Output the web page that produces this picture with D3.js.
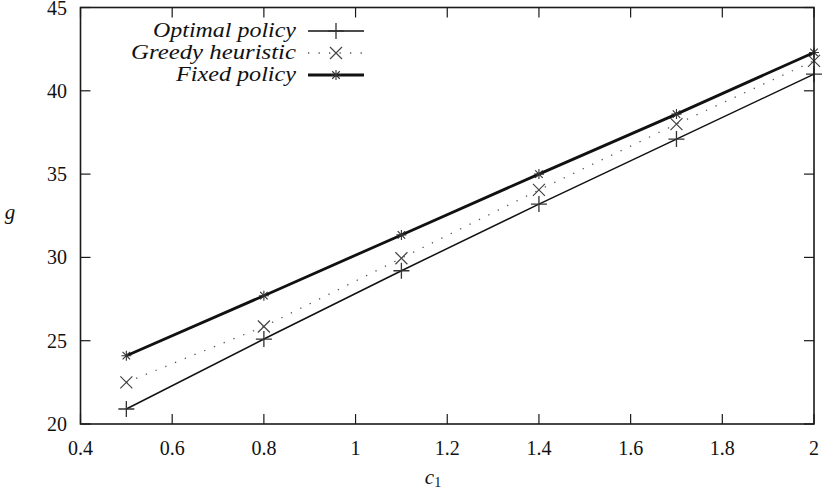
<!DOCTYPE html>
<html>
<head>
<meta charset="utf-8">
<script src="https://cdn.jsdelivr.net/npm/d3@7"></script>
<style>
  html, body { margin: 0; padding: 0; background: #fff; }
</style>
</head>
<body>
<svg id="chart" width="826" height="493" font-family="'Liberation Serif', 'Times New Roman', serif"></svg>
<script>
// c1 values on the horizontal axis
const c1Values = [0.5, 0.8, 1.1, 1.4, 1.7, 2.0];
// g values per policy
const optimalPolicy = [20.9, 25.1, 29.2, 33.2, 37.1, 41.0];
const greedyHeuristic = [22.5, 25.85, 29.95, 34.05, 38.0, 41.8];
const fixedPolicy = [24.1, 27.7, 31.35, 35.0, 38.6, 42.3];
// axis ticks
const xTicks = [0.4, 0.6, 0.8, 1, 1.2, 1.4, 1.6, 1.8, 2];
const yTicks = [20, 25, 30, 35, 40, 45];
const seriesNames = ["Optimal policy", "Greedy heuristic", "Fixed policy"];

const svg = d3.select("#chart");
const plotLeft = 80.5, plotRight = 814, plotTop = 7.5, plotBottom = 424;

const x = d3.scaleLinear().domain([0.4, 2]).range([plotLeft, plotRight]);
const y = d3.scaleLinear().domain([20, 45]).range([plotBottom, plotTop]);

const ink = "#1a1a1a";
const textInk = "#111";
const tickLen = 10;

// Tick marks, inward on all four sides
const gT = svg.append("g").attr("stroke", ink).attr("stroke-width", 1.2);
xTicks.forEach(t => {
  gT.append("line").attr("x1", x(t)).attr("x2", x(t)).attr("y1", plotBottom).attr("y2", plotBottom - tickLen);
  gT.append("line").attr("x1", x(t)).attr("x2", x(t)).attr("y1", plotTop).attr("y2", plotTop + tickLen);
});
yTicks.forEach(t => {
  gT.append("line").attr("x1", plotLeft).attr("x2", plotLeft + tickLen).attr("y1", y(t)).attr("y2", y(t));
  gT.append("line").attr("x1", plotRight).attr("x2", plotRight - tickLen).attr("y1", y(t)).attr("y2", y(t));
});

// Tick labels
svg.append("g").attr("fill", textInk).selectAll("text").data(xTicks).join("text")
  .attr("x", d => x(d)).attr("y", 455)
  .attr("text-anchor", "middle").attr("font-size", 20)
  .text(d => d3.format("~g")(d));
svg.append("g").attr("fill", textInk).selectAll("text").data(yTicks).join("text")
  .attr("x", 67).attr("y", d => y(d) + 7)
  .attr("text-anchor", "end").attr("font-size", 20)
  .text(d => d);

// Axis titles
svg.append("text").attr("x", 10).attr("y", 219).attr("font-size", 21).attr("fill", textInk)
  .attr("font-style", "italic").attr("text-anchor", "middle").text("g");
const xl = svg.append("text").attr("x", 433).attr("y", 484).attr("font-size", 21).attr("fill", textInk)
  .attr("font-style", "italic").attr("text-anchor", "middle");
xl.append("tspan").text("c");
xl.append("tspan").attr("font-size", 14).attr("font-style", "normal").attr("dy", 3).text("1");

// Markers
function plus(g, cx, cy, s, w, col) {
  g.append("path").attr("d", `M${cx - s},${cy}H${cx + s}M${cx},${cy - s}V${cy + s}`)
    .attr("stroke", col).attr("stroke-width", w).attr("fill", "none");
}
function cross(g, cx, cy, s, w, col) {
  g.append("path").attr("d", `M${cx - s},${cy - s}L${cx + s},${cy + s}M${cx - s},${cy + s}L${cx + s},${cy - s}`)
    .attr("stroke", col).attr("stroke-width", w).attr("fill", "none");
}
function star(g, cx, cy, s, w, col) {
  plus(g, cx, cy, s, w, col);
  cross(g, cx, cy, s * 0.75, w, col);
}

const series = [
  { name: seriesNames[0], vals: optimalPolicy, width: 1.5, dash: null, color: "#111", marker: (g, a, b) => plus(g, a, b, 8, 1.3, "#333") },
  { name: seriesNames[1], vals: greedyHeuristic, width: 1.3, dash: "1.3,9.2", color: "#555", marker: (g, a, b) => cross(g, a, b, 6, 1.2, "#444") },
  { name: seriesNames[2], vals: fixedPolicy, width: 2.8, dash: null, color: "#111", marker: (g, a, b) => star(g, a, b, 5, 1.1, "#333") }
];

const line = d3.line().x(d => x(d[0])).y(d => y(d[1]));
const plotG = svg.append("g");
series.forEach(s => {
  const pts = c1Values.map((c, i) => [c, s.vals[i]]);
  plotG.append("path").datum(pts).attr("d", line)
    .attr("fill", "none").attr("stroke", s.color).attr("stroke-width", s.width)
    .attr("stroke-dasharray", s.dash);
  pts.forEach(p => s.marker(plotG, x(p[0]), y(p[1])));
});

// Legend
const legRows = [31, 53, 75];
const legWidths = [143, 165, 120];
const lg = svg.append("g");
series.forEach((s, i) => {
  const ry = legRows[i];
  lg.append("text").attr("x", 296).attr("y", ry + 6).attr("text-anchor", "end")
    .attr("font-size", 20).attr("font-style", "italic").attr("fill", textInk)
    .attr("textLength", legWidths[i]).attr("lengthAdjust", "spacingAndGlyphs")
    .text(s.name);
  lg.append("line").attr("x1", 308).attr("x2", 364).attr("y1", ry).attr("y2", ry)
    .attr("stroke", s.color).attr("stroke-width", s.width).attr("stroke-dasharray", s.dash);
  s.marker(lg, 336, ry);
});

// Frame
svg.append("rect").attr("x", plotLeft).attr("y", plotTop).attr("width", plotRight - plotLeft).attr("height", plotBottom - plotTop)
  .attr("fill", "none").attr("stroke", ink).attr("stroke-width", 1.6);
</script>
</body>
</html>
